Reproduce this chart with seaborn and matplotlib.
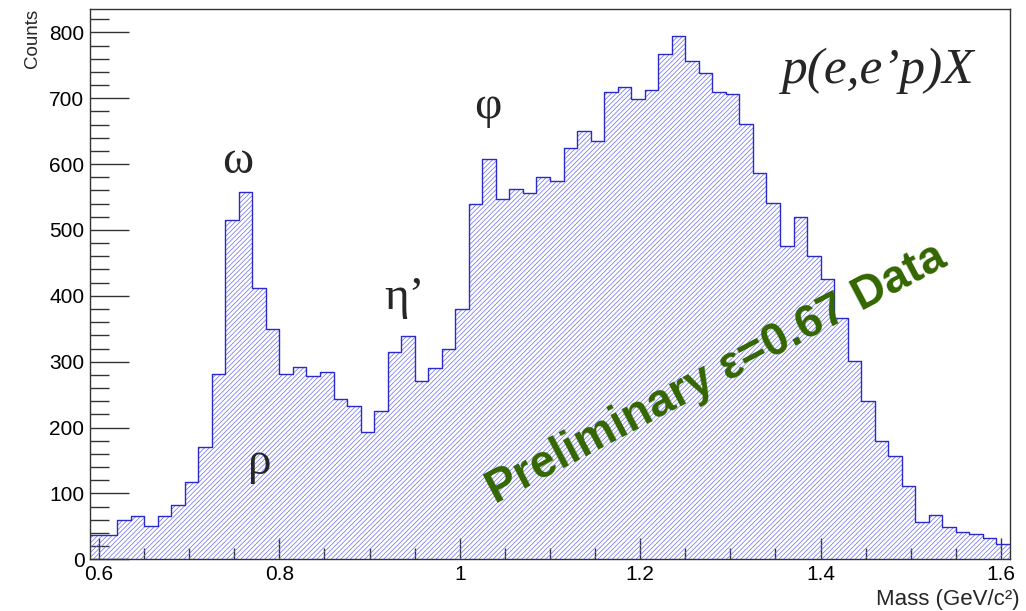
import numpy as np
import matplotlib
matplotlib.use("Agg")
import matplotlib.pyplot as plt
from matplotlib.ticker import MultipleLocator, FuncFormatter
import seaborn as sns

# Missing-mass spectrum, 68 bins of 0.015 GeV/c^2 between 0.59 and 1.61
mass_lo = 0.59
mass_hi = 1.61
n_bins = 68
counts = [
    37, 37, 59, 66, 50, 65, 83, 118, 170, 281,
    515, 557, 412, 350, 281, 292, 278, 284, 243, 232,
    193, 225, 314, 339, 270, 291, 319, 380, 539, 607,
    547, 562, 556, 580, 575, 625, 650, 635, 710, 717,
    699, 712, 767, 795, 757, 738, 709, 707, 661, 586,
    541, 476, 520, 460, 426, 367, 301, 241, 180, 157,
    111, 57, 67, 49, 42, 39, 33, 24,
]

# Resonance labels: (text, mass, counts)
peak_labels = ["\u03c9", "\u03c1", "\u03b7\u2019", "\u03c6"]
peak_x = [0.754, 0.778, 0.939, 1.031]
peak_y = [603, 147, 397, 687]

reaction = "p(e,e\u2019p)X"
watermark = "Preliminary \u03b5=0.67 Data"

edges = list(np.linspace(mass_lo, mass_hi, n_bins + 1))
centers = [0.5 * (a + b) for a, b in zip(edges[:-1], edges[1:])]

sns.set_style("white")
plt.rcParams["font.family"] = ["Liberation Sans", "DejaVu Sans"]
plt.rcParams["hatch.linewidth"] = 0.5

fig = plt.figure(figsize=(10.26, 6.11), dpi=100)
ax = fig.add_axes([0.0877, 0.0846, 0.8967, 0.9002])

# hatched fill
sns.histplot(x=centers, weights=counts, bins=edges, element="step", fill=True,
             color="#6a6af4", facecolor="none", edgecolor="#6a6af4",
             linewidth=0, hatch="///////", ax=ax)
# outline
sns.histplot(x=centers, weights=counts, bins=edges, element="step", fill=False,
             color="#2a2acc", linewidth=1.0, ax=ax)

ax.set_xlim(mass_lo, mass_hi)
ax.set_ylim(0, 835)

ax.xaxis.set_major_locator(MultipleLocator(0.2))
ax.xaxis.set_minor_locator(MultipleLocator(0.05))
ax.yaxis.set_major_locator(MultipleLocator(100))
ax.yaxis.set_minor_locator(MultipleLocator(20))
ax.xaxis.set_major_formatter(FuncFormatter(lambda v, p: f"{v:g}"))
ax.yaxis.set_major_formatter(FuncFormatter(lambda v, p: f"{v:g}"))

ax.tick_params(axis="both", which="both", direction="in", colors="#333333",
               labelcolor="black", labelsize=15, width=1.0,
               bottom=True, left=True, top=False, right=False)
ax.tick_params(axis="x", which="major", length=15, pad=4)
ax.tick_params(axis="x", which="minor", length=8)
ax.tick_params(axis="y", which="major", length=28, pad=4)
ax.tick_params(axis="y", which="minor", length=14)
for side in ["top", "right", "bottom", "left"]:
    ax.spines[side].set_visible(True)
    ax.spines[side].set_color("#333333")
    ax.spines[side].set_linewidth(1.0)

ax.set_xlabel("Mass (GeV/c\u00b2)", fontsize=16, loc="right", labelpad=4)
ax.set_ylabel("Counts", fontsize=13.5, loc="top", labelpad=6)
ax.xaxis.label.set_x(1.01)

for lab, px, py in zip(peak_labels, peak_x, peak_y):
    ax.text(px, py, lab, fontsize=34, family="Liberation Serif",
            ha="center", va="center")

ax.text(1.463, 742, reaction, fontsize=37, family="Liberation Serif",
        style="italic", ha="center", va="center")

ax.text(1.285, 282, watermark, fontsize=33, fontweight="bold",
        color="#336600", rotation=27.8, rotation_mode="anchor",
        ha="center", va="center")

fig.savefig("out.png", dpi=100)
